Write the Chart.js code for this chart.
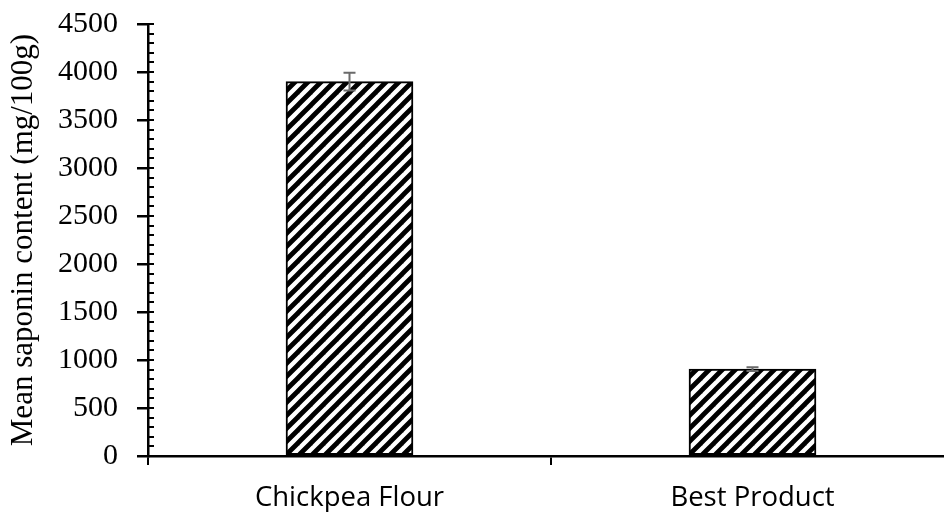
<!DOCTYPE html>
<html>
<head>
<meta charset="utf-8">
<script src="https://cdn.jsdelivr.net/npm/chart.js@4.4.1/dist/chart.umd.min.js"></script>
<style>
html,body{margin:0;padding:0;background:#fff;overflow:hidden;}
#wrap{width:956px;height:512px;}
</style>
</head>
<body>
<div id="wrap"><canvas id="c" width="956" height="512"></canvas></div>
<script>
const categories = ['Chickpea Flour', 'Best Product'];
const meanValues = [3900, 905];
const errorValues = [93, 20];
const yMin = 0, yMax = 4500, yMajorStep = 500, yMinorStep = 100;
const yTitle = 'Mean saponin content (mg/100g)';

function makeHatch() {
  const p = 13;
  const c = document.createElement('canvas');
  c.width = p; c.height = p;
  const g = c.getContext('2d');
  g.fillStyle = '#fff';
  g.fillRect(0, 0, p, p);
  g.strokeStyle = '#000';
  g.lineWidth = 4.8;
  g.lineCap = 'square';
  for (const o of [-p, 0, p]) {
    g.beginPath();
    g.moveTo(o - 2, p + 2);
    g.lineTo(o + p + 2, -2);
    g.stroke();
  }
  return g.createPattern(c, 'repeat');
}

const extrasPlugin = {
  id: 'extras',
  afterDatasetsDraw(chart) {
    const ctx = chart.ctx;
    const y = chart.scales.y;
    const ax = y.right;
    ctx.save();
    ctx.strokeStyle = '#000';
    ctx.lineWidth = 2;
    for (let v = yMin; v <= yMax; v += yMinorStep) {
      const py = Math.round(y.getPixelForValue(v));
      ctx.beginPath();
      ctx.moveTo(ax, py);
      ctx.lineTo(ax + 6, py);
      ctx.stroke();
    }
    ctx.strokeStyle = '#6a6a6a';
    ctx.lineWidth = 2;
    const meta = chart.getDatasetMeta(0);
    meta.data.forEach((bar, i) => {
      const cx = bar.x;
      const top = y.getPixelForValue(meanValues[i] + errorValues[i]);
      const bot = y.getPixelForValue(meanValues[i] - errorValues[i]);
      ctx.beginPath();
      ctx.moveTo(cx, top); ctx.lineTo(cx, bot);
      ctx.moveTo(cx - 6, top); ctx.lineTo(cx + 6, top);
      ctx.moveTo(cx - 6, bot); ctx.lineTo(cx + 6, bot);
      ctx.stroke();
    });
    ctx.restore();
  }
};

new Chart(document.getElementById('c'), {
  type: 'bar',
  data: {
    labels: categories,
    datasets: [{
      data: meanValues,
      backgroundColor: makeHatch(),
      borderColor: '#000',
      borderWidth: 2,
      borderSkipped: false,
      barThickness: 127
    }]
  },
  options: {
    responsive: false,
    animation: false,
    devicePixelRatio: 1,
    layout: { padding: { left: 5, top: 24, right: 2, bottom: 0 } },
    plugins: { legend: { display: false }, tooltip: { enabled: false } },
    scales: {
      x: {
        type: 'category',
        offset: true,
        grid: { offset: true, drawOnChartArea: false, tickLength: 9, color: '#000', lineWidth: 2 },
        border: { display: true, color: '#000', width: 2.5 },
        ticks: { color: '#000', padding: 17, font: { family: 'Open Sans', size: 27.5 } },
        afterFit(s) { s.height = 56; s.paddingLeft = 0; s.paddingRight = 0; }
      },
      y: {
        min: yMin, max: yMax,
        grid: { drawOnChartArea: false, tickLength: 11, color: '#000', lineWidth: 2.5 },
        border: { display: true, color: '#000', width: 2.5 },
        ticks: { stepSize: yMajorStep, color: '#000', padding: 19, font: { family: 'Liberation Serif', size: 30 },
                 callback: (v) => String(v) },
        title: { display: true, text: yTitle, color: '#000', padding: { top: 0, bottom: 0 }, font: { family: 'Liberation Serif', size: 31 } },
        afterFit(s) { s.width = 143; s.paddingTop = 0; s.paddingBottom = 0; }
      }
    }
  },
  plugins: [extrasPlugin]
});
</script>
</body>
</html>
